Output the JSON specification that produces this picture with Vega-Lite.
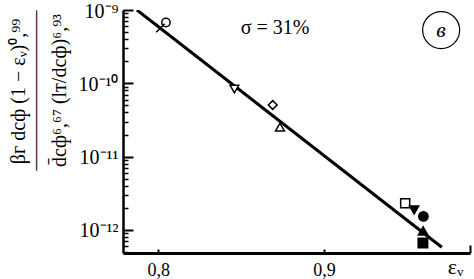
{
  "$schema": "https://vega.github.io/schema/vega-lite/v6.json",
  "width": 347,
  "height": 243,
  "autosize": {"type": "none"},
  "padding": {"left": 123, "top": 10, "right": 4, "bottom": 26},
  "background": "white",
  "config": {
    "view": {"stroke": null},
    "axis": {"grid": false, "domainColor": "black", "tickColor": "black", "labelColor": "black", "titleColor": "black",
      "titleFont": "Liberation Serif", "titleFontWeight": "normal"}
  },
  "datasets": {
    "fit": [{"ev": 0.7871, "k": 1e-9}, {"ev": 0.971, "k": 5.8e-13}],
    "samples": [
      {"sample": "A", "ev": 0.8046, "k": 6.76e-10},
      {"sample": "B", "ev": 0.8013, "k": 5.69e-10},
      {"sample": "C", "ev": 0.8459, "k": 8.36e-11},
      {"sample": "D", "ev": 0.869, "k": 5.06e-11},
      {"sample": "E", "ev": 0.8734, "k": 2.53e-11},
      {"sample": "F", "ev": 0.9489, "k": 2.31e-12},
      {"sample": "G", "ev": 0.9543, "k": 1.87e-12},
      {"sample": "H", "ev": 0.9599, "k": 1.53e-12},
      {"sample": "I", "ev": 0.9597, "k": 9.7e-13},
      {"sample": "J", "ev": 0.9596, "k": 6.65e-13}
    ],
    "notes": [{"ev": 0.8704, "k": 5.7e-10, "label": "σ = 31%"}],
    "badge": [{"ev": 0.9706, "k": 5.33e-10, "label": "в"}]
  },
  "resolve": {"axis": {"x": "independent", "y": "independent"}},
  "layer": [
    {
      "data": {"name": "fit"},
      "mark": {"type": "line", "color": "black", "strokeWidth": 3, "clip": true},
      "encoding": {
        "x": {
          "field": "ev", "type": "quantitative",
          "scale": {"domain": [0.7787, 0.988], "nice": false, "zero": false},
          "axis": {
            "orient": "bottom",
            "values": [0.8, 0.9],
            "labelExpr": "replace(format(datum.value, '.1f'), '.', ',')",
            "labelFont": "Liberation Serif", "labelFontSize": 18, "labelPadding": 26, "labelBaseline": "alphabetic",
            "tickSize": -4, "tickWidth": 2, "domainWidth": 3,
            "title": "εᵥ", "titleFontSize": 22,
            "titleX": 332, "titleY": 13, "titleAlign": "center", "titleBaseline": "middle"
          }
        },
        "y": {
          "field": "k", "type": "quantitative",
          "scale": {"type": "log", "domain": [4.85e-13, 1e-9], "nice": false},
          "axis": {
            "orient": "left",
            "values": [1e-9, 1e-10, 1e-11, 1e-12],
            "labelExpr": "datum.value > 5e-10 ? '10⁻⁹' : datum.value > 5e-11 ? '10⁻¹⁰' : datum.value > 5e-12 ? '10⁻¹¹' : '10⁻¹²'",
            "labelFont": "Liberation Serif", "labelFontSize": 20, "labelPadding": 15, "labelOffset": 1,
            "tickSize": -10, "tickWidth": 2, "domainWidth": 2.5,
            "title": "βг dсф (1 − εᵥ)⁰,⁹⁹", "titleFontSize": 20,
            "titleAngle": 270, "titleX": -99, "titleY": 81, "titleAlign": "center", "titleBaseline": "alphabetic"
          }
        }
      }
    },
    {
      "data": {"name": "samples"},
      "mark": {"type": "point", "filled": true, "stroke": "black", "strokeWidth": 1.5, "opacity": 1},
      "encoding": {
        "x": {
          "field": "ev", "type": "quantitative",
          "scale": {"domain": [0.7787, 0.988], "nice": false, "zero": false},
          "axis": {"orient": "bottom", "values": [0.988], "labels": false, "domain": false, "tickSize": -8, "tickWidth": 2, "title": null}
        },
        "y": {
          "field": "k", "type": "quantitative",
          "scale": {"type": "log", "domain": [4.85e-13, 1e-9], "nice": false},
          "axis": {
            "orient": "left",
            "values": [5e-13, 6e-13, 7e-13, 8e-13, 9e-13, 2e-12, 3e-12, 4e-12, 5e-12, 6e-12, 7e-12, 8e-12, 9e-12, 2e-11, 3e-11, 4e-11, 5e-11, 6e-11, 7e-11, 8e-11, 9e-11, 2e-10, 3e-10, 4e-10, 5e-10, 6e-10, 7e-10, 8e-10, 9e-10],
            "labels": false, "domain": false, "tickSize": -5, "tickWidth": 1.5,
            "title": "————————", "titleFontSize": 20,
            "titleAngle": 270, "titleX": -82, "titleY": 80, "titleAlign": "center", "titleBaseline": "alphabetic"
          }
        },
        "shape": {
          "field": "sample", "type": "nominal", "legend": null,
          "scale": {
            "domain": ["A", "B", "C", "D", "E", "F", "G", "H", "I", "J"],
            "range": ["circle", "M-1,-1L1,1M-1,1L1,-1", "triangle-down", "diamond", "triangle-up", "square", "triangle-down", "circle", "triangle-up", "square"]
          }
        },
        "fill": {
          "field": "sample", "type": "nominal", "legend": null,
          "scale": {
            "domain": ["A", "B", "C", "D", "E", "F", "G", "H", "I", "J"],
            "range": ["white", "white", "white", "white", "white", "white", "black", "black", "black", "black"]
          }
        },
        "size": {
          "field": "sample", "type": "nominal", "legend": null,
          "scale": {
            "domain": ["A", "B", "C", "D", "E", "F", "G", "H", "I", "J"],
            "range": [70, 90, 110, 100, 130, 90, 170, 100, 110, 81]
          }
        }
      }
    },
    {
      "data": {"name": "notes"},
      "mark": {"type": "text", "font": "Liberation Serif", "fontSize": 20, "color": "black", "align": "center", "baseline": "middle"},
      "encoding": {
        "x": {"field": "ev", "type": "quantitative", "scale": {"domain": [0.7787, 0.988], "nice": false, "zero": false}, "axis": null},
        "y": {
          "field": "k", "type": "quantitative",
          "scale": {"type": "log", "domain": [4.85e-13, 1e-9], "nice": false},
          "axis": {
            "orient": "left", "labels": false, "ticks": false, "domain": false,
            "title": "d̄сф⁶,⁶⁷ (lт/dсф)⁶,⁹³", "titleFontSize": 20,
            "titleAngle": 270, "titleX": -58, "titleY": 80, "titleAlign": "center", "titleBaseline": "alphabetic"
          }
        },
        "text": {"field": "label"}
      }
    },
    {
      "data": {"name": "badge"},
      "mark": {"type": "point", "shape": "circle", "size": 1369, "filled": false, "stroke": "black", "strokeWidth": 1.2, "opacity": 1},
      "encoding": {
        "x": {"field": "ev", "type": "quantitative", "scale": {"domain": [0.7787, 0.988], "nice": false, "zero": false}, "axis": null},
        "y": {"field": "k", "type": "quantitative", "scale": {"type": "log", "domain": [4.85e-13, 1e-9], "nice": false}, "axis": null}
      }
    },
    {
      "data": {"name": "badge"},
      "mark": {"type": "text", "font": "Liberation Serif", "fontSize": 22, "fontStyle": "italic", "color": "black", "align": "center", "baseline": "middle"},
      "encoding": {
        "x": {"field": "ev", "type": "quantitative", "scale": {"domain": [0.7787, 0.988], "nice": false, "zero": false}, "axis": null},
        "y": {"field": "k", "type": "quantitative", "scale": {"type": "log", "domain": [4.85e-13, 1e-9], "nice": false}, "axis": null},
        "text": {"field": "label"}
      }
    }
  ]
}
